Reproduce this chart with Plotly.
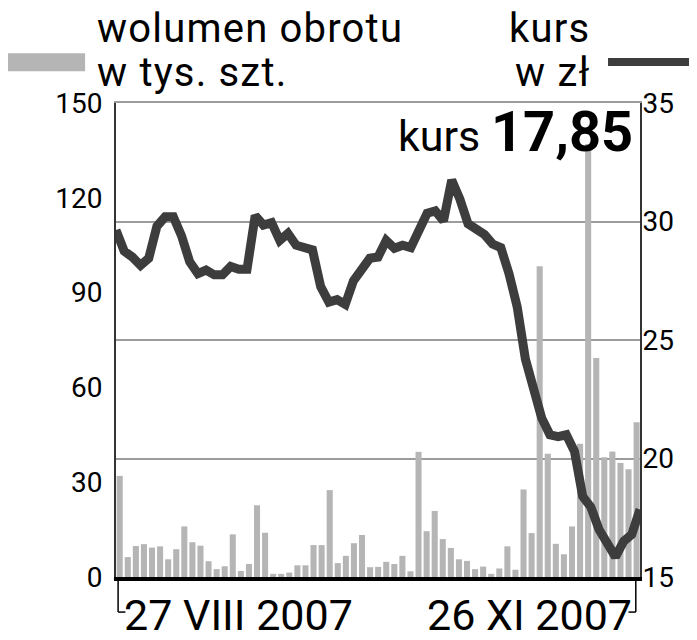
import plotly.graph_objects as go

# wolumen obrotu (tys. szt.), 65 sesji od 27 VIII 2007 do 26 XI 2007
wolumen = [32, 6.3, 9.8, 10.4, 9.3, 9.7, 5.6, 8.8, 16, 11,
           9.9, 5, 2.5, 3.4, 13.5, 1.9, 4.1, 22.7, 14, 1.0,
           1.0, 1.4, 3.7, 3.7, 10.1, 10.1, 27.5, 4.4, 6.7, 10.7,
           13.3, 3.1, 3.2, 4.8, 4.1, 6.7, 1.8, 39.6, 14.5, 20.9,
           12, 9.2, 5.6, 5.1, 2.5, 3.3, 1.0, 2.7, 9.7, 2.3,
           27.7, 13.9, 98.3, 39, 10.5, 7.2, 16, 42.2, 137, 69.3,
           37.9, 39.7, 36.1, 34.1, 49]

# kurs w zł
kurs = [29.64, 28.75, 28.5, 28.15, 28.45, 29.8, 30.2, 30.2, 29.4, 28.3,
        27.8, 27.95, 27.75, 27.75, 28.1, 27.98, 27.98, 30.25, 29.85, 29.95,
        29.2, 29.5, 29.0, 28.87, 28.8, 27.25, 26.6, 26.7, 26.5, 27.5,
        28.0, 28.45, 28.5, 29.2, 28.87, 29.0, 28.9, 29.7, 30.35, 30.45,
        30.03, 31.75, 30.95, 29.9, 29.7, 29.45, 29.05, 28.9, 27.8, 26.4,
        24.2, 22.9, 21.7, 21.0, 20.92, 21.0, 20.3, 18.4, 17.95, 17.0,
        16.5, 15.85, 16.5, 16.8, 17.85]

sesje = list(range(len(kurs)))
data_od = "27 VIII 2007"
data_do = "26 XI 2007"

BAR_COLOR = "#b5b5b5"
LINE_COLOR = "#3d3d3d"
GRID_COLOR = "#9c9c9c"
FONT = "Roboto, Inter, sans-serif"

fig = go.Figure()

fig.add_trace(go.Bar(
    x=sesje, y=wolumen, marker=dict(color=BAR_COLOR, line=dict(width=0)),
    xaxis="x", yaxis="y", showlegend=False,
))

fig.add_trace(go.Scatter(
    x=sesje, y=kurs, mode="lines",
    line=dict(color=LINE_COLOR, width=9),
    xaxis="x2", yaxis="y2", showlegend=False,
))

# the page body has an 8px margin, so the figure is 8px smaller than the window
fig.update_layout(
    width=689, height=632,
    margin=dict(l=108, r=57, t=95, b=63),
    plot_bgcolor="white", paper_bgcolor="white",
    bargap=0.25,
    font=dict(family=FONT, color="black"),
    xaxis=dict(
        range=[-0.46, 64.42], showticklabels=False, showgrid=False,
        zeroline=False, showline=True, linecolor="black", linewidth=4,
        ticks="", automargin=False,
    ),
    xaxis2=dict(
        range=[0, 64], overlaying="x", side="top", showticklabels=False,
        showgrid=False, zeroline=False, showline=True,
        linecolor=GRID_COLOR, linewidth=1.5, ticks="", automargin=False,
    ),
    yaxis=dict(
        range=[0, 150], tick0=0, dtick=30, showgrid=False, zeroline=False,
        showline=True, linecolor="#333333", linewidth=2, ticks="",
        tickfont=dict(size=28, family=FONT), ticklabelstandoff=6,
        automargin=False,
    ),
    yaxis2=dict(
        range=[15, 35], tick0=15, dtick=5, overlaying="y", side="right",
        showgrid=True, gridcolor=GRID_COLOR, gridwidth=2, zeroline=False,
        showline=True, linecolor="#333333", linewidth=2, ticks="",
        tickfont=dict(size=28, family=FONT), ticklabelstandoff=-5,
        automargin=False,
    ),
)

# legend swatches
fig.add_shape(type="rect", xref="paper", yref="paper",
              x0=-0.221, x1=-0.059, y0=1.067, y1=1.105,
              fillcolor=BAR_COLOR, line=dict(width=0))
fig.add_shape(type="line", xref="paper", yref="paper",
              x0=0.939, x1=1.109, y0=1.0865, y1=1.0865,
              line=dict(color=LINE_COLOR, width=8))

# bracket under the date axis
for x0, x1 in [(0.004, 0.018), (0.992, 0.978)]:
    fig.add_shape(type="line", xref="paper", yref="paper",
                  x0=x0, x1=x0, y0=-0.005, y1=-0.074,
                  line=dict(color="black", width=1.5))
    fig.add_shape(type="line", xref="paper", yref="paper",
                  x0=x0, x1=x1, y0=-0.074, y1=-0.074,
                  line=dict(color="black", width=1.5))


def spaced(txt):
    return f"<span style='letter-spacing:1.2px'>{txt}</span>"


title_font = dict(size=40, family=FONT, color="black")
ann = [
    dict(text=spaced("wolumen obrotu"), x=-0.040, y=1.158),
    dict(text=spaced("w tys. szt."), x=-0.040, y=1.064),
    dict(text=spaced("kurs"), x=0.909, y=1.158, xanchor="right"),
    dict(text=spaced("w zł"), x=0.909, y=1.064, xanchor="right"),
]
for a in ann:
    a.setdefault("xanchor", "left")
    fig.add_annotation(xref="paper", yref="paper", yanchor="middle",
                       showarrow=False, font=title_font, **a)

date_font = dict(size=43, family=FONT, color="black")
fig.add_annotation(xref="paper", yref="paper", x=0.012, y=-0.08,
                   xanchor="left", yanchor="middle", showarrow=False,
                   text=data_od, font=date_font)
fig.add_annotation(xref="paper", yref="paper", x=0.988, y=-0.08,
                   xanchor="right", yanchor="middle", showarrow=False,
                   text=data_do, font=date_font)

ostatni = f"{kurs[-1]:.2f}".replace(".", ",")
fig.add_annotation(
    xref="paper", yref="paper", x=0.99, y=0.939, xanchor="right",
    yanchor="middle", showarrow=False,
    text=f"<span style='font-size:43px'>kurs </span><b>{ostatni}</b>",
    font=dict(size=56, family=FONT, color="black"),
)

fig.write_html("out.html")
